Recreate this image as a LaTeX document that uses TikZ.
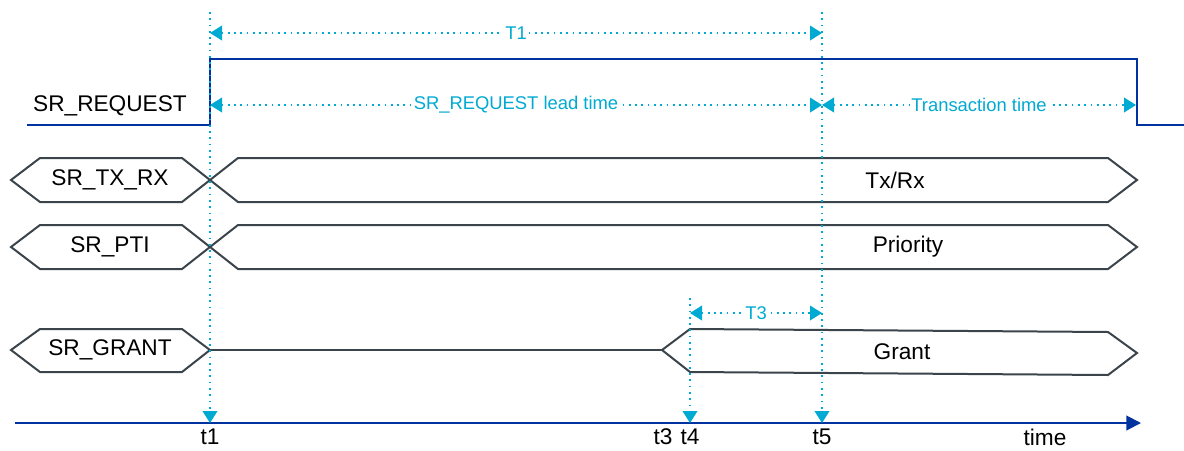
\documentclass[tikz,border=0pt]{standalone}
\usepackage{fontspec}
\setmainfont{Liberation Sans}
\usetikzlibrary{arrows.meta}
\definecolor{sigblue}{RGB}{0,51,160}
\definecolor{dimcyan}{RGB}{0,170,210}
\definecolor{busgray}{RGB}{59,68,75}
\tikzset{
	bus/.style={line width=1.5pt, color=busgray, line join=miter},
	sig/.style={line width=1.9pt, color=sigblue},
	mark line/.style={line width=1.3pt, color=dimcyan, dash pattern=on 1.3pt off 3.4pt},
	dim arrow/.style={mark line, {Triangle[length=9pt,width=11pt,fill=dimcyan]}-{Triangle[length=9pt,width=11pt,fill=dimcyan]}},
	down arrow/.style={mark line, -{Triangle[length=9pt,width=11pt,fill=dimcyan]}},
	dimlabel/.style={fill=white, inner sep=1pt, text=dimcyan, font=\fontsize{13.8}{15}\selectfont},
	siglabel/.style={text=black, font=\fontsize{17}{19}\selectfont},
}

\begin{document}
\begin{tikzpicture}[x=0.75pt, y=-0.75pt]
		%%%%% START %%%%%
		\useasboundingbox (0,0) rectangle (1184,450);
		
		% time marks
		\coordinate (t1top) at (210,12);
		\coordinate (t1bot) at (210,423);
		\coordinate (t4top) at (690,298);
		\coordinate (t4bot) at (690,423);
		\coordinate (t5top) at (822,12);
		\coordinate (t5bot) at (822,423);
		\coordinate (endreq) at (1136,105);
		
		% SR_REQUEST
		\draw[sig] (27,125) -- (210,125) -- (210,59) -- (1137,59) -- (1137,125) -- (1184,125);
		\node[siglabel] (lreq) at (110,106) {SR\_REQUEST};
		
		% SR_TX_RX
		\draw[bus] (11,180) -- (40,158) -- (182,158) -- (238,202) -- (1108,202) -- (1137,180) -- (1108,158) -- (238,158) -- (182,202) -- (40,202) -- cycle;
		\node[siglabel] (ltx) at (110,180) {SR\_TX\_RX};
		\node[siglabel] (vtx) at (895,180) {Tx/Rx};
		
		% SR_PTI
		\draw[bus] (11,247) -- (40,225) -- (182,225) -- (238,269) -- (1108,269) -- (1137,247) -- (1108,225) -- (238,225) -- (182,269) -- (40,269) -- cycle;
		\node[siglabel] (lpti) at (110,247) {SR\_PTI};
		\node[siglabel] (vpti) at (908,247) {Priority};
		
		% SR_GRANT
		\draw[bus] (11,350) -- (40,329) -- (182,329) -- (210,350) -- (182,372) -- (40,372) -- cycle;
		\draw[bus] (210,350) -- (662,350);
		\draw[bus] (662,350) -- (690,329) -- (1108,332) -- (1137,353) -- (1108,375) -- (690,372) -- cycle;
		\node[siglabel] (lgnt) at (110,350) {SR\_GRANT};
		\node[siglabel] (vgnt) at (902,352) {Grant};
		
		% time axis
		\coordinate (axstart) at (15,423);
		\coordinate (axend) at (1141,423);
		\draw[line width=1.5pt, color=sigblue, -{Triangle[length=11pt,width=11pt]}] (axstart) -- (axend);
		
		% markers
		\draw[down arrow] (t1top) -- (t1bot);
		\draw[down arrow] (t5top) -- (t5bot);
		\draw[down arrow] (t4top) -- (t4bot);
		
		\node[siglabel] (lt1) at (210,437) {t1};
		\node[siglabel] (lt3) at (663,437) {t3};
		\node[siglabel] (lt4) at (690,437) {t4};
		\node[siglabel] (lt5) at (822,437) {t5};
		\node[siglabel] (ltime) at (1045,437) {time};
		
		% durations
		\draw[dim arrow] (t1top |- 0,33) -- node[dimlabel] {T1} (t5top |- 0,33);
		\draw[dim arrow] (t1top |- endreq) -- node[dimlabel] {SR\_REQUEST lead time} (t5top |- endreq);
		\draw[dim arrow] (t5top |- endreq) -- node[dimlabel] {Transaction time} (endreq);
		\draw[dim arrow] (t4top |- 0,313) -- node[dimlabel] {T3} (t5top |- 0,313);
		
		%%%%% END %%%%%
	\end{tikzpicture}
\end{document}
